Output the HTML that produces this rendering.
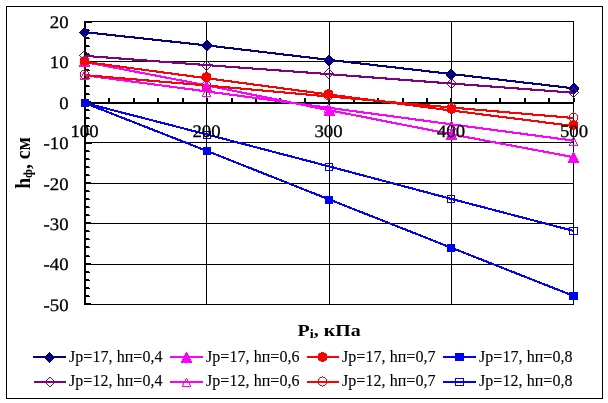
<!DOCTYPE html>
<html lang="ru">
<head>
<meta charset="utf-8">
<title>Chart</title>
<style>
html, body { margin: 0; padding: 0; background: #ffffff; }
body { width: 608px; height: 403px; overflow: hidden; font-family: "Liberation Serif", serif; }
svg { display: block; }
</style>
</head>
<body>
<svg width="608" height="403" viewBox="0 0 608 403">
<rect x="0" y="0" width="608" height="403" fill="#fff"/>
<rect x="6.5" y="6.5" width="596" height="392" fill="none" stroke="#000" stroke-width="1" shape-rendering="crispEdges"/>
<g shape-rendering="crispEdges" fill="#000">
<rect x="85" y="21" width="489" height="1"/>
<rect x="85" y="61" width="489" height="1"/>
<rect x="85" y="142" width="489" height="1"/>
<rect x="85" y="183" width="489" height="1"/>
<rect x="85" y="223" width="489" height="1"/>
<rect x="85" y="264" width="489" height="1"/>
<rect x="85" y="304" width="489" height="1"/>
<rect x="206" y="21" width="1" height="284"/>
<rect x="329" y="21" width="1" height="284"/>
<rect x="451" y="21" width="1" height="284"/>
<rect x="573" y="21" width="1" height="284"/>
<rect x="84" y="21" width="2" height="284"/>
<rect x="84" y="102" width="490" height="2"/>
<rect x="86" y="21" width="5" height="1"/>
<rect x="86" y="22" width="6" height="1"/>
<rect x="86" y="29" width="3" height="1"/>
<rect x="86" y="30" width="4" height="1"/>
<rect x="86" y="37" width="3" height="1"/>
<rect x="86" y="38" width="4" height="1"/>
<rect x="86" y="45" width="3" height="1"/>
<rect x="86" y="46" width="4" height="1"/>
<rect x="86" y="53" width="3" height="1"/>
<rect x="86" y="54" width="4" height="1"/>
<rect x="86" y="61" width="5" height="1"/>
<rect x="86" y="62" width="6" height="1"/>
<rect x="86" y="69" width="3" height="1"/>
<rect x="86" y="70" width="4" height="1"/>
<rect x="86" y="77" width="3" height="1"/>
<rect x="86" y="78" width="4" height="1"/>
<rect x="86" y="85" width="3" height="1"/>
<rect x="86" y="86" width="4" height="1"/>
<rect x="86" y="93" width="3" height="1"/>
<rect x="86" y="94" width="4" height="1"/>
<rect x="86" y="101" width="5" height="1"/>
<rect x="86" y="102" width="6" height="1"/>
<rect x="86" y="109" width="3" height="1"/>
<rect x="86" y="110" width="4" height="1"/>
<rect x="86" y="117" width="3" height="1"/>
<rect x="86" y="118" width="4" height="1"/>
<rect x="86" y="125" width="3" height="1"/>
<rect x="86" y="126" width="4" height="1"/>
<rect x="86" y="133" width="3" height="1"/>
<rect x="86" y="134" width="4" height="1"/>
<rect x="86" y="142" width="5" height="1"/>
<rect x="86" y="143" width="6" height="1"/>
<rect x="86" y="150" width="3" height="1"/>
<rect x="86" y="151" width="4" height="1"/>
<rect x="86" y="158" width="3" height="1"/>
<rect x="86" y="159" width="4" height="1"/>
<rect x="86" y="166" width="3" height="1"/>
<rect x="86" y="167" width="4" height="1"/>
<rect x="86" y="174" width="3" height="1"/>
<rect x="86" y="175" width="4" height="1"/>
<rect x="86" y="182" width="5" height="1"/>
<rect x="86" y="183" width="6" height="1"/>
<rect x="86" y="190" width="3" height="1"/>
<rect x="86" y="191" width="4" height="1"/>
<rect x="86" y="198" width="3" height="1"/>
<rect x="86" y="199" width="4" height="1"/>
<rect x="86" y="206" width="3" height="1"/>
<rect x="86" y="207" width="4" height="1"/>
<rect x="86" y="214" width="3" height="1"/>
<rect x="86" y="215" width="4" height="1"/>
<rect x="86" y="222" width="5" height="1"/>
<rect x="86" y="223" width="6" height="1"/>
<rect x="86" y="230" width="3" height="1"/>
<rect x="86" y="231" width="4" height="1"/>
<rect x="86" y="238" width="3" height="1"/>
<rect x="86" y="239" width="4" height="1"/>
<rect x="86" y="246" width="3" height="1"/>
<rect x="86" y="247" width="4" height="1"/>
<rect x="86" y="255" width="3" height="1"/>
<rect x="86" y="256" width="4" height="1"/>
<rect x="86" y="263" width="5" height="1"/>
<rect x="86" y="264" width="6" height="1"/>
<rect x="86" y="271" width="3" height="1"/>
<rect x="86" y="272" width="4" height="1"/>
<rect x="86" y="279" width="3" height="1"/>
<rect x="86" y="280" width="4" height="1"/>
<rect x="86" y="287" width="3" height="1"/>
<rect x="86" y="288" width="4" height="1"/>
<rect x="86" y="295" width="3" height="1"/>
<rect x="86" y="296" width="4" height="1"/>
<rect x="86" y="303" width="5" height="1"/>
<rect x="86" y="304" width="6" height="1"/>
<rect x="84" y="98" width="2" height="4"/>
<rect x="108" y="98" width="2" height="4"/>
<rect x="133" y="98" width="2" height="4"/>
<rect x="157" y="98" width="2" height="4"/>
<rect x="182" y="98" width="2" height="4"/>
<rect x="206" y="98" width="2" height="4"/>
<rect x="231" y="98" width="2" height="4"/>
<rect x="255" y="98" width="2" height="4"/>
<rect x="279" y="98" width="2" height="4"/>
<rect x="304" y="98" width="2" height="4"/>
<rect x="328" y="98" width="2" height="4"/>
<rect x="353" y="98" width="2" height="4"/>
<rect x="377" y="98" width="2" height="4"/>
<rect x="402" y="98" width="2" height="4"/>
<rect x="426" y="98" width="2" height="4"/>
<rect x="450" y="98" width="2" height="4"/>
<rect x="475" y="98" width="2" height="4"/>
<rect x="499" y="98" width="2" height="4"/>
<rect x="524" y="98" width="2" height="4"/>
<rect x="548" y="98" width="2" height="4"/>
<rect x="573" y="98" width="2" height="4"/>
</g>
<g font-family="'Liberation Serif', serif" font-weight="bold" font-size="18.67" fill="#000">
<text transform="translate(297.5,335.8) scale(1.07,0.95)">P<tspan font-size="13.5" dy="2.5">i</tspan><tspan dy="-2.5">, кПа</tspan></text>
<text transform="translate(29.7,188.8) rotate(-90) scale(0.95,1)" font-size="20.6">h<tspan font-size="13.5" dy="2.2">ф</tspan><tspan dy="-2.2">, см</tspan></text>
</g>
<g shape-rendering="crispEdges">
<polyline points="84.5,32.13 206.75,45.38 329.0,59.85 451.25,74.00 573.5,88.30" fill="none" stroke="#000080" stroke-width="2.1" shape-rendering="crispEdges"/>
<polyline points="84.5,61.90 206.75,85.40 329.0,110.20 451.25,134.20 573.5,157.20" fill="none" stroke="#ff00ff" stroke-width="2.1" shape-rendering="crispEdges"/>
<polyline points="84.5,61.86 206.75,78.27 329.0,94.50 451.25,110.50 573.5,126.00" fill="none" stroke="#ff0000" stroke-width="2.1" shape-rendering="crispEdges"/>
<polyline points="84.5,102.90 206.75,150.88 329.0,199.38 451.25,247.70 573.5,295.88" fill="none" stroke="#0000ff" stroke-width="2.1" shape-rendering="crispEdges"/>
<polyline points="84.5,55.80 206.75,65.10 329.0,74.15 451.25,83.50 573.5,92.70" fill="none" stroke="#800080" stroke-width="2.1" shape-rendering="crispEdges"/>
<polyline points="84.5,75.20 206.75,91.45 329.0,107.80 451.25,124.30 573.5,140.60" fill="none" stroke="#ff00ff" stroke-width="2.1" shape-rendering="crispEdges"/>
<polyline points="84.5,75.10 206.75,85.50 329.0,96.50 451.25,107.50 573.5,118.00" fill="none" stroke="#ff0000" stroke-width="2.1" shape-rendering="crispEdges"/>
<polyline points="84.5,102.90 206.75,134.38 329.0,166.38 451.25,198.88 573.5,230.88" fill="none" stroke="#0000ff" stroke-width="2.1" shape-rendering="crispEdges"/>
<path d="M84 27h1v1h-1zM83 28h3v1h-3zM82 29h5v1h-5zM81 30h7v1h-7zM80 31h9v1h-9zM79 32h11v1h-11zM80 33h9v1h-9zM81 34h7v1h-7zM82 35h5v1h-5zM83 36h3v1h-3zM84 37h1v1h-1z" fill="#000080"/>
<path d="M206 40h2v1h-2zM205 41h4v1h-4zM204 42h6v1h-6zM203 43h8v1h-8zM202 44h10v1h-10zM202 45h10v1h-10zM202 46h10v1h-10zM203 47h8v1h-8zM204 48h6v1h-6zM205 49h4v1h-4zM206 50h2v1h-2z" fill="#000080"/>
<path d="M328 55h2v1h-2zM327 56h4v1h-4zM326 57h6v1h-6zM325 58h8v1h-8zM324 59h10v1h-10zM324 60h10v1h-10zM324 61h10v1h-10zM325 62h8v1h-8zM326 63h6v1h-6zM327 64h4v1h-4zM328 65h2v1h-2z" fill="#000080"/>
<path d="M450 69h2v1h-2zM449 70h4v1h-4zM448 71h6v1h-6zM447 72h8v1h-8zM446 73h10v1h-10zM446 74h10v1h-10zM446 75h10v1h-10zM447 76h8v1h-8zM448 77h6v1h-6zM449 78h4v1h-4zM450 79h2v1h-2z" fill="#000080"/>
<path d="M573 83h2v1h-2zM572 84h4v1h-4zM571 85h6v1h-6zM570 86h8v1h-8zM569 87h10v1h-10zM569 88h10v1h-10zM569 89h10v1h-10zM570 90h8v1h-8zM571 91h6v1h-6zM572 92h4v1h-4zM573 93h2v1h-2z" fill="#000080"/>
<path d="M84 56h1v1h-1zM83 57h3v1h-3zM83 58h3v1h-3zM82 59h5v1h-5zM82 60h5v1h-5zM81 61h7v1h-7zM81 62h7v1h-7zM80 63h9v1h-9zM80 64h9v1h-9zM79 65h11v1h-11zM79 66h11v1h-11z" fill="#ff00ff"/>
<path d="M206 81h1v1h-1zM205 82h3v1h-3zM205 83h3v1h-3zM204 84h5v1h-5zM204 85h5v1h-5zM203 86h7v1h-7zM203 87h7v1h-7zM202 88h9v1h-9zM202 89h9v1h-9zM201 90h11v1h-11zM201 91h11v1h-11z" fill="#ff00ff"/>
<path d="M329 105h1v1h-1zM328 106h3v1h-3zM328 107h3v1h-3zM327 108h5v1h-5zM327 109h5v1h-5zM326 110h7v1h-7zM326 111h7v1h-7zM325 112h9v1h-9zM325 113h9v1h-9zM324 114h11v1h-11zM324 115h11v1h-11z" fill="#ff00ff"/>
<path d="M451 129h1v1h-1zM450 130h3v1h-3zM450 131h3v1h-3zM449 132h5v1h-5zM449 133h5v1h-5zM448 134h7v1h-7zM448 135h7v1h-7zM447 136h9v1h-9zM447 137h9v1h-9zM446 138h11v1h-11zM446 139h11v1h-11z" fill="#ff00ff"/>
<path d="M573 152h1v1h-1zM572 153h3v1h-3zM572 154h3v1h-3zM571 155h5v1h-5zM571 156h5v1h-5zM570 157h7v1h-7zM570 158h7v1h-7zM569 159h9v1h-9zM569 160h9v1h-9zM568 161h11v1h-11zM568 162h11v1h-11z" fill="#ff00ff"/>
<path d="M83 56h3v1h-3zM81 57h7v1h-7zM80 58h9v1h-9zM80 59h9v1h-9zM80 60h9v1h-9zM80 61h9v1h-9zM80 62h9v1h-9zM80 63h9v1h-9zM81 64h7v1h-7zM83 65h3v1h-3z" fill="#ff0000"/>
<path d="M205 72h3v1h-3zM203 73h7v1h-7zM202 74h9v1h-9zM202 75h9v1h-9zM202 76h9v1h-9zM202 77h9v1h-9zM202 78h9v1h-9zM202 79h9v1h-9zM203 80h7v1h-7zM205 81h3v1h-3z" fill="#ff0000"/>
<path d="M327 89h3v1h-3zM325 90h7v1h-7zM324 91h9v1h-9zM324 92h9v1h-9zM324 93h9v1h-9zM324 94h9v1h-9zM324 95h9v1h-9zM324 96h9v1h-9zM325 97h7v1h-7zM327 98h3v1h-3z" fill="#ff0000"/>
<path d="M450 104h3v1h-3zM448 105h7v1h-7zM447 106h9v1h-9zM447 107h9v1h-9zM447 108h9v1h-9zM447 109h9v1h-9zM447 110h9v1h-9zM447 111h9v1h-9zM448 112h7v1h-7zM450 113h3v1h-3z" fill="#ff0000"/>
<path d="M572 120h3v1h-3zM570 121h7v1h-7zM569 122h9v1h-9zM569 123h9v1h-9zM569 124h9v1h-9zM569 125h9v1h-9zM569 126h9v1h-9zM569 127h9v1h-9zM570 128h7v1h-7zM572 129h3v1h-3z" fill="#ff0000"/>
<path d="M81 99h8v1h-8zM81 100h8v1h-8zM81 101h8v1h-8zM81 102h8v1h-8zM81 103h8v1h-8zM81 104h8v1h-8zM81 105h8v1h-8zM81 106h8v1h-8z" fill="#0000ff"/>
<path d="M203 147h8v1h-8zM203 148h8v1h-8zM203 149h8v1h-8zM203 150h8v1h-8zM203 151h8v1h-8zM203 152h8v1h-8zM203 153h8v1h-8zM203 154h8v1h-8z" fill="#0000ff"/>
<path d="M325 196h8v1h-8zM325 197h8v1h-8zM325 198h8v1h-8zM325 199h8v1h-8zM325 200h8v1h-8zM325 201h8v1h-8zM325 202h8v1h-8zM325 203h8v1h-8z" fill="#0000ff"/>
<path d="M447 244h8v1h-8zM447 245h8v1h-8zM447 246h8v1h-8zM447 247h8v1h-8zM447 248h8v1h-8zM447 249h8v1h-8zM447 250h8v1h-8zM447 251h8v1h-8z" fill="#0000ff"/>
<path d="M569 292h9v1h-9zM569 293h9v1h-9zM569 294h9v1h-9zM569 295h9v1h-9zM569 296h9v1h-9zM569 297h9v1h-9zM569 298h9v1h-9zM569 299h9v1h-9z" fill="#0000ff"/>
<path d="M84 50h1v1h-1zM83 51h1v1h-1zM85 51h1v1h-1zM82 52h1v1h-1zM86 52h1v1h-1zM81 53h1v1h-1zM87 53h1v1h-1zM80 54h1v1h-1zM88 54h1v1h-1zM79 55h1v1h-1zM89 55h1v1h-1zM80 56h1v1h-1zM88 56h1v1h-1zM81 57h1v1h-1zM87 57h1v1h-1zM82 58h1v1h-1zM86 58h1v1h-1zM83 59h1v1h-1zM85 59h1v1h-1zM84 60h1v1h-1z" fill="#800080"/>
<path d="M206 60h1v1h-1zM205 61h1v1h-1zM207 61h1v1h-1zM204 62h1v1h-1zM208 62h1v1h-1zM203 63h1v1h-1zM209 63h1v1h-1zM202 64h1v1h-1zM210 64h1v1h-1zM201 65h1v1h-1zM211 65h1v1h-1zM202 66h1v1h-1zM210 66h1v1h-1zM203 67h1v1h-1zM209 67h1v1h-1zM204 68h1v1h-1zM208 68h1v1h-1zM205 69h1v1h-1zM207 69h1v1h-1zM206 70h1v1h-1z" fill="#800080"/>
<path d="M328 68h1v1h-1zM327 69h1v1h-1zM329 69h1v1h-1zM326 70h1v1h-1zM330 70h1v1h-1zM325 71h1v1h-1zM331 71h1v1h-1zM324 72h1v1h-1zM332 72h1v1h-1zM323 73h1v1h-1zM333 73h1v1h-1zM324 74h1v1h-1zM332 74h1v1h-1zM325 75h1v1h-1zM331 75h1v1h-1zM326 76h1v1h-1zM330 76h1v1h-1zM327 77h1v1h-1zM329 77h1v1h-1zM328 78h1v1h-1z" fill="#800080"/>
<path d="M451 78h1v1h-1zM450 79h1v1h-1zM452 79h1v1h-1zM449 80h1v1h-1zM453 80h1v1h-1zM448 81h1v1h-1zM454 81h1v1h-1zM447 82h1v1h-1zM455 82h1v1h-1zM446 83h1v1h-1zM456 83h1v1h-1zM447 84h1v1h-1zM455 84h1v1h-1zM448 85h1v1h-1zM454 85h1v1h-1zM449 86h1v1h-1zM453 86h1v1h-1zM450 87h1v1h-1zM452 87h1v1h-1zM451 88h1v1h-1z" fill="#800080"/>
<path d="M573 87h1v1h-1zM572 88h1v1h-1zM574 88h1v1h-1zM571 89h1v1h-1zM575 89h1v1h-1zM570 90h1v1h-1zM576 90h1v1h-1zM569 91h1v1h-1zM577 91h1v1h-1zM568 92h1v1h-1zM578 92h1v1h-1zM569 93h1v1h-1zM577 93h1v1h-1zM570 94h1v1h-1zM576 94h1v1h-1zM571 95h1v1h-1zM575 95h1v1h-1zM572 96h1v1h-1zM574 96h1v1h-1zM573 97h1v1h-1z" fill="#800080"/>
<path d="M84 71h1v1h-1zM83 72h1v1h-1zM85 72h1v1h-1zM83 73h1v1h-1zM85 73h1v1h-1zM82 74h1v1h-1zM86 74h1v1h-1zM82 75h1v1h-1zM86 75h1v1h-1zM81 76h1v1h-1zM87 76h1v1h-1zM81 77h1v1h-1zM87 77h1v1h-1zM80 78h1v1h-1zM88 78h1v1h-1zM80 79h9v1h-9z" fill="#ff00ff"/>
<path d="M206 88h1v1h-1zM205 89h1v1h-1zM207 89h1v1h-1zM205 90h1v1h-1zM207 90h1v1h-1zM204 91h1v1h-1zM208 91h1v1h-1zM204 92h1v1h-1zM208 92h1v1h-1zM203 93h1v1h-1zM209 93h1v1h-1zM203 94h1v1h-1zM209 94h1v1h-1zM202 95h1v1h-1zM210 95h1v1h-1zM202 96h9v1h-9z" fill="#ff00ff"/>
<path d="M328 104h1v1h-1zM327 105h1v1h-1zM329 105h1v1h-1zM327 106h1v1h-1zM329 106h1v1h-1zM326 107h1v1h-1zM330 107h1v1h-1zM326 108h1v1h-1zM330 108h1v1h-1zM325 109h1v1h-1zM331 109h1v1h-1zM325 110h1v1h-1zM331 110h1v1h-1zM324 111h1v1h-1zM332 111h1v1h-1zM324 112h9v1h-9z" fill="#ff00ff"/>
<path d="M451 121h1v1h-1zM450 122h1v1h-1zM452 122h1v1h-1zM450 123h1v1h-1zM452 123h1v1h-1zM449 124h1v1h-1zM453 124h1v1h-1zM449 125h1v1h-1zM453 125h1v1h-1zM448 126h1v1h-1zM454 126h1v1h-1zM448 127h1v1h-1zM454 127h1v1h-1zM447 128h1v1h-1zM455 128h1v1h-1zM447 129h9v1h-9z" fill="#ff00ff"/>
<path d="M573 137h1v1h-1zM572 138h1v1h-1zM574 138h1v1h-1zM572 139h1v1h-1zM574 139h1v1h-1zM571 140h1v1h-1zM575 140h1v1h-1zM571 141h1v1h-1zM575 141h1v1h-1zM570 142h1v1h-1zM576 142h1v1h-1zM570 143h1v1h-1zM576 143h1v1h-1zM569 144h1v1h-1zM577 144h1v1h-1zM569 145h9v1h-9z" fill="#ff00ff"/>
<path d="M84 69h1v1h-1zM82 70h2v1h-2zM85 70h2v1h-2zM81 71h1v1h-1zM87 71h1v1h-1zM80 72h1v1h-1zM88 72h1v1h-1zM80 73h1v1h-1zM88 73h1v1h-1zM80 74h1v1h-1zM88 74h1v1h-1zM80 75h1v1h-1zM88 75h1v1h-1zM80 76h1v1h-1zM88 76h1v1h-1zM81 77h1v1h-1zM87 77h1v1h-1zM82 78h2v1h-2zM85 78h2v1h-2zM84 79h1v1h-1z" fill="#ff0000"/>
<path d="M206 80h1v1h-1zM204 81h2v1h-2zM207 81h2v1h-2zM203 82h1v1h-1zM209 82h1v1h-1zM202 83h1v1h-1zM210 83h1v1h-1zM202 84h1v1h-1zM210 84h1v1h-1zM202 85h1v1h-1zM210 85h1v1h-1zM202 86h1v1h-1zM210 86h1v1h-1zM202 87h1v1h-1zM210 87h1v1h-1zM203 88h1v1h-1zM209 88h1v1h-1zM204 89h2v1h-2zM207 89h2v1h-2zM206 90h1v1h-1z" fill="#ff0000"/>
<path d="M328 90h1v1h-1zM326 91h2v1h-2zM329 91h2v1h-2zM325 92h1v1h-1zM331 92h1v1h-1zM324 93h1v1h-1zM332 93h1v1h-1zM324 94h1v1h-1zM332 94h1v1h-1zM324 95h1v1h-1zM332 95h1v1h-1zM324 96h1v1h-1zM332 96h1v1h-1zM324 97h1v1h-1zM332 97h1v1h-1zM325 98h1v1h-1zM331 98h1v1h-1zM326 99h2v1h-2zM329 99h2v1h-2zM328 100h1v1h-1z" fill="#ff0000"/>
<path d="M451 102h1v1h-1zM449 103h2v1h-2zM452 103h2v1h-2zM448 104h1v1h-1zM454 104h1v1h-1zM447 105h1v1h-1zM455 105h1v1h-1zM447 106h1v1h-1zM455 106h1v1h-1zM447 107h1v1h-1zM455 107h1v1h-1zM447 108h1v1h-1zM455 108h1v1h-1zM447 109h1v1h-1zM455 109h1v1h-1zM448 110h1v1h-1zM454 110h1v1h-1zM449 111h2v1h-2zM452 111h2v1h-2zM451 112h1v1h-1z" fill="#ff0000"/>
<path d="M573 112h1v1h-1zM571 113h2v1h-2zM574 113h2v1h-2zM570 114h1v1h-1zM576 114h1v1h-1zM569 115h1v1h-1zM577 115h1v1h-1zM569 116h1v1h-1zM577 116h1v1h-1zM569 117h1v1h-1zM577 117h1v1h-1zM569 118h1v1h-1zM577 118h1v1h-1zM569 119h1v1h-1zM577 119h1v1h-1zM570 120h1v1h-1zM576 120h1v1h-1zM571 121h2v1h-2zM574 121h2v1h-2zM573 122h1v1h-1z" fill="#ff0000"/>
<path d="M81 99h8v1h-8zM81 100h1v1h-1zM88 100h1v1h-1zM81 101h1v1h-1zM88 101h1v1h-1zM81 102h1v1h-1zM88 102h1v1h-1zM81 103h1v1h-1zM88 103h1v1h-1zM81 104h1v1h-1zM88 104h1v1h-1zM81 105h1v1h-1zM88 105h1v1h-1zM81 106h8v1h-8z" fill="#0000ff"/>
<path d="M203 131h8v1h-8zM203 132h1v1h-1zM210 132h1v1h-1zM203 133h1v1h-1zM210 133h1v1h-1zM203 134h1v1h-1zM210 134h1v1h-1zM203 135h1v1h-1zM210 135h1v1h-1zM203 136h1v1h-1zM210 136h1v1h-1zM203 137h1v1h-1zM210 137h1v1h-1zM203 138h8v1h-8z" fill="#0000ff"/>
<path d="M325 163h8v1h-8zM325 164h1v1h-1zM332 164h1v1h-1zM325 165h1v1h-1zM332 165h1v1h-1zM325 166h1v1h-1zM332 166h1v1h-1zM325 167h1v1h-1zM332 167h1v1h-1zM325 168h1v1h-1zM332 168h1v1h-1zM325 169h1v1h-1zM332 169h1v1h-1zM325 170h8v1h-8z" fill="#0000ff"/>
<path d="M447 195h8v1h-8zM447 196h1v1h-1zM454 196h1v1h-1zM447 197h1v1h-1zM454 197h1v1h-1zM447 198h1v1h-1zM454 198h1v1h-1zM447 199h1v1h-1zM454 199h1v1h-1zM447 200h1v1h-1zM454 200h1v1h-1zM447 201h1v1h-1zM454 201h1v1h-1zM447 202h8v1h-8z" fill="#0000ff"/>
<path d="M569 227h9v1h-9zM569 228h1v1h-1zM577 228h1v1h-1zM569 229h1v1h-1zM577 229h1v1h-1zM569 230h1v1h-1zM577 230h1v1h-1zM569 231h1v1h-1zM577 231h1v1h-1zM569 232h1v1h-1zM577 232h1v1h-1zM569 233h1v1h-1zM577 233h1v1h-1zM569 234h9v1h-9z" fill="#0000ff"/>
</g>
<g font-family="'Liberation Serif', serif" font-size="18.8" fill="#000" stroke="#000" stroke-width="0.3" text-rendering="geometricPrecision">
<text transform="translate(68.6,27.8) scale(1,0.94)" text-anchor="end">20</text>
<text transform="translate(68.6,68.2) scale(1,0.94)" text-anchor="end">10</text>
<text transform="translate(68.6,108.7) scale(1,0.94)" text-anchor="end">0</text>
<text transform="translate(68.6,149.1) scale(1,0.94)" text-anchor="end">-10</text>
<text transform="translate(68.6,189.5) scale(1,0.94)" text-anchor="end">-20</text>
<text transform="translate(68.6,229.9) scale(1,0.94)" text-anchor="end">-30</text>
<text transform="translate(68.6,270.4) scale(1,0.94)" text-anchor="end">-40</text>
<text transform="translate(68.6,310.8) scale(1,0.94)" text-anchor="end">-50</text>
<text transform="translate(84.5,136.8) scale(1,0.94)" text-anchor="middle">100</text>
<text transform="translate(206.5,136.8) scale(1,0.94)" text-anchor="middle">200</text>
<text transform="translate(328.5,136.8) scale(1,0.94)" text-anchor="middle">300</text>
<text transform="translate(451,136.8) scale(1,0.94)" text-anchor="middle">400</text>
<text transform="translate(574,136.8) scale(1,0.94)" text-anchor="middle">500</text>
</g>
<g font-family="'Liberation Serif', serif" font-size="16" fill="#000">
<rect x="33" y="356" width="33" height="2" fill="#000080" shape-rendering="crispEdges"/>
<g shape-rendering="crispEdges"><path d="M49 352h1v1h-1zM48 353h3v1h-3zM47 354h5v1h-5zM46 355h7v1h-7zM45 356h9v1h-9zM44 357h11v1h-11zM45 358h9v1h-9zM46 359h7v1h-7zM47 360h5v1h-5zM48 361h3v1h-3zM49 362h1v1h-1z" fill="#000080"/></g>
<text x="69" y="362" textLength="93.5" lengthAdjust="spacing" stroke="#000" stroke-width="0.1">Jp=17, hп=0,4</text>
<rect x="170" y="356" width="33" height="2" fill="#ff00ff" shape-rendering="crispEdges"/>
<g shape-rendering="crispEdges"><path d="M186 352h1v1h-1zM185 353h3v1h-3zM185 354h3v1h-3zM184 355h5v1h-5zM184 356h5v1h-5zM183 357h7v1h-7zM183 358h7v1h-7zM182 359h9v1h-9zM182 360h9v1h-9zM181 361h11v1h-11zM181 362h11v1h-11z" fill="#ff00ff"/></g>
<text x="206" y="362" textLength="93.5" lengthAdjust="spacing" stroke="#000" stroke-width="0.1">Jp=17, hп=0,6</text>
<rect x="307" y="356" width="32" height="2" fill="#ff0000" shape-rendering="crispEdges"/>
<g shape-rendering="crispEdges"><path d="M321 352h3v1h-3zM319 353h7v1h-7zM318 354h9v1h-9zM318 355h9v1h-9zM318 356h9v1h-9zM318 357h9v1h-9zM318 358h9v1h-9zM318 359h9v1h-9zM319 360h7v1h-7zM321 361h3v1h-3z" fill="#ff0000"/></g>
<text x="342" y="362" textLength="93.5" lengthAdjust="spacing" stroke="#000" stroke-width="0.1">Jp=17, hп=0,7</text>
<rect x="443" y="356" width="33" height="2" fill="#0000ff" shape-rendering="crispEdges"/>
<g shape-rendering="crispEdges"><path d="M455 353h9v1h-9zM455 354h9v1h-9zM455 355h9v1h-9zM455 356h9v1h-9zM455 357h9v1h-9zM455 358h9v1h-9zM455 359h9v1h-9zM455 360h9v1h-9z" fill="#0000ff"/></g>
<text x="479" y="362" textLength="93.5" lengthAdjust="spacing" stroke="#000" stroke-width="0.1">Jp=17, hп=0,8</text>
<rect x="34" y="381" width="32" height="2" fill="#800080" shape-rendering="crispEdges"/>
<g shape-rendering="crispEdges"><path d="M49 377h2v1h-2zM48 378h1v1h-1zM51 378h1v1h-1zM47 379h1v1h-1zM52 379h1v1h-1zM46 380h1v1h-1zM53 380h1v1h-1zM45 381h1v1h-1zM54 381h1v1h-1zM45 382h1v1h-1zM54 382h1v1h-1zM46 383h1v1h-1zM53 383h1v1h-1zM47 384h1v1h-1zM52 384h1v1h-1zM48 385h1v1h-1zM51 385h1v1h-1zM49 386h2v1h-2z" fill="#800080"/></g>
<text x="69" y="386" textLength="93.5" lengthAdjust="spacing" stroke="#000" stroke-width="0.1">Jp=12, hп=0,4</text>
<rect x="170" y="381" width="33" height="2" fill="#ff00ff" shape-rendering="crispEdges"/>
<g shape-rendering="crispEdges"><path d="M186 378h1v1h-1zM185 379h1v1h-1zM187 379h1v1h-1zM185 380h1v1h-1zM187 380h1v1h-1zM184 381h1v1h-1zM188 381h1v1h-1zM184 382h1v1h-1zM188 382h1v1h-1zM183 383h1v1h-1zM189 383h1v1h-1zM183 384h1v1h-1zM189 384h1v1h-1zM182 385h1v1h-1zM190 385h1v1h-1zM182 386h9v1h-9z" fill="#ff00ff"/></g>
<text x="206" y="386" textLength="93.5" lengthAdjust="spacing" stroke="#000" stroke-width="0.1">Jp=12, hп=0,6</text>
<rect x="307" y="381" width="32" height="2" fill="#ff0000" shape-rendering="crispEdges"/>
<g shape-rendering="crispEdges"><path d="M322 376h1v1h-1zM320 377h2v1h-2zM323 377h2v1h-2zM319 378h1v1h-1zM325 378h1v1h-1zM318 379h1v1h-1zM326 379h1v1h-1zM318 380h1v1h-1zM326 380h1v1h-1zM318 381h1v1h-1zM326 381h1v1h-1zM318 382h1v1h-1zM326 382h1v1h-1zM318 383h1v1h-1zM326 383h1v1h-1zM319 384h1v1h-1zM325 384h1v1h-1zM320 385h2v1h-2zM323 385h2v1h-2zM322 386h1v1h-1z" fill="#ff0000"/></g>
<text x="342" y="386" textLength="93.5" lengthAdjust="spacing" stroke="#000" stroke-width="0.1">Jp=12, hп=0,7</text>
<rect x="443" y="381" width="33" height="2" fill="#0000ff" shape-rendering="crispEdges"/>
<g shape-rendering="crispEdges"><path d="M455 378h9v1h-9zM455 379h1v1h-1zM463 379h1v1h-1zM455 380h1v1h-1zM463 380h1v1h-1zM455 381h1v1h-1zM463 381h1v1h-1zM455 382h1v1h-1zM463 382h1v1h-1zM455 383h1v1h-1zM463 383h1v1h-1zM455 384h1v1h-1zM463 384h1v1h-1zM455 385h9v1h-9z" fill="#0000ff"/></g>
<text x="479" y="386" textLength="93.5" lengthAdjust="spacing" stroke="#000" stroke-width="0.1">Jp=12, hп=0,8</text>
</g>
</svg>
</body>
</html>
